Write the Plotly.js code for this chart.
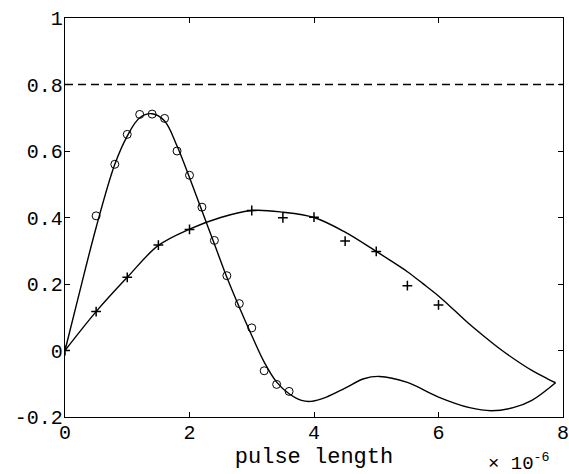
<!DOCTYPE html>
<html>
<head>
<meta charset="utf-8">
<script src="https://cdn.plot.ly/plotly-3.0.1.min.js"></script>
<style>html,body{margin:0;padding:0;background:#fff;}#chart{width:569px;height:474px;}</style>
</head>
<body>
<div id="chart"></div>
<script>
// x in units of 1e-6 (pulse length)
const circX = [0.5, 0.8, 1.0, 1.2, 1.4, 1.6, 1.8, 2.0, 2.2, 2.4, 2.6, 2.8, 3.0, 3.2, 3.4, 3.6];
const circY = [0.405, 0.56, 0.65, 0.71, 0.711, 0.698, 0.60, 0.527, 0.431, 0.331, 0.225, 0.141, 0.068, -0.061, -0.102, -0.123];

const plusX = [0, 0.5, 1.0, 1.5, 2.0, 3.0, 3.5, 4.0, 4.5, 5.0, 5.5, 6.0];
const plusY = [0, 0.117, 0.22, 0.317, 0.364, 0.421, 0.399, 0.401, 0.329, 0.298, 0.195, 0.137];

const fitCircX = [0, 0.2, 0.5, 0.8, 1.0, 1.2, 1.4, 1.6, 1.8, 2.0, 2.2, 2.4, 2.6, 2.8, 3.0, 3.2, 3.4, 3.6, 3.8, 3.95, 4.2, 4.5, 4.8, 5.05, 5.5, 6.0, 6.5, 6.85, 7.2, 7.5, 7.88];
const fitCircY = [0, 0.15, 0.37, 0.56, 0.645, 0.70, 0.712, 0.69, 0.615, 0.52, 0.42, 0.32, 0.22, 0.13, 0.045, -0.035, -0.095, -0.13, -0.15, -0.153, -0.14, -0.113, -0.085, -0.078, -0.096, -0.14, -0.172, -0.181, -0.172, -0.15, -0.097];

const fitPlusX = [0, 0.5, 1.0, 1.5, 2.0, 2.5, 3.0, 3.5, 4.0, 4.5, 5.0, 5.25, 5.5, 5.75, 6.0, 6.25, 6.5, 6.75, 7.0, 7.25, 7.5, 7.75, 7.88];
const fitPlusY = [0, 0.117, 0.22, 0.316, 0.365, 0.40, 0.421, 0.416, 0.40, 0.356, 0.298, 0.268, 0.237, 0.201, 0.164, 0.122, 0.079, 0.040, 0.003, -0.030, -0.060, -0.085, -0.097];

const threshX = [0, 8];
const threshY = [0.8, 0.8];

const xTicks = [0, 2, 4, 6, 8];
const xTickText = ['0', '2', '4', '6', '8'];
const yTicks = [-0.2, 0, 0.2, 0.4, 0.6, 0.8, 1];
const yTickText = ['-0.2', '0', '0.2', '0.4', '0.6', '0.8', '1'];

const mono = 'Liberation Mono, Courier New, monospace';

const traces = [
  {x: threshX, y: threshY, mode: 'lines', line: {color: '#000', width: 1.3, dash: '8px,5px'}, showlegend: false},
  {x: fitCircX, y: fitCircY, mode: 'lines', line: {color: '#000', width: 1.4, shape: 'spline', smoothing: 1}, showlegend: false},
  {x: fitPlusX, y: fitPlusY, mode: 'lines', line: {color: '#000', width: 1.4, shape: 'spline', smoothing: 1}, showlegend: false},
  {x: circX, y: circY, mode: 'markers', marker: {symbol: 'circle-open', size: 8, color: '#000', line: {width: 1, color: '#000'}}, showlegend: false},
  {x: plusX, y: plusY, mode: 'markers', marker: {symbol: 'cross-thin-open', size: 7, color: '#000', line: {width: 1.5, color: '#000'}}, showlegend: false}
];

const axisCommon = {
  showgrid: false, zeroline: false, showline: true, linecolor: '#000', linewidth: 1.3,
  mirror: 'ticks', ticks: 'inside', ticklen: 5, tickwidth: 1, tickcolor: '#000',
  ticklabeloverflow: 'allow',
  tickfont: {family: mono, size: 20, color: '#000'}
};

const layout = {
  width: 569, height: 474,
  margin: {l: 65, r: 6, t: 18, b: 57},
  paper_bgcolor: '#fff', plot_bgcolor: '#fff',
  xaxis: Object.assign({}, axisCommon, {
    range: [0, 8], tickmode: 'array', tickvals: xTicks, ticktext: xTickText,
    ticklabelstandoff: -3,
    title: {text: 'pulse length', font: {family: mono, size: 22, color: '#000'}, standoff: 0}
  }),
  yaxis: Object.assign({}, axisCommon, {
    range: [-0.2, 1], tickmode: 'array', tickvals: yTicks, ticktext: yTickText,
    ticklabelstandoff: -3
  }),
  annotations: [{
    xref: 'paper', yref: 'paper', x: 0.846, y: 0, xanchor: 'left', yanchor: 'top', yshift: -31,
    text: '× 10<sup>-6</sup>', showarrow: false,
    font: {family: mono, size: 19, color: '#000'}
  }]
};

Plotly.newPlot('chart', traces, layout, {displayModeBar: false, staticPlot: true});
</script>
</body>
</html>
